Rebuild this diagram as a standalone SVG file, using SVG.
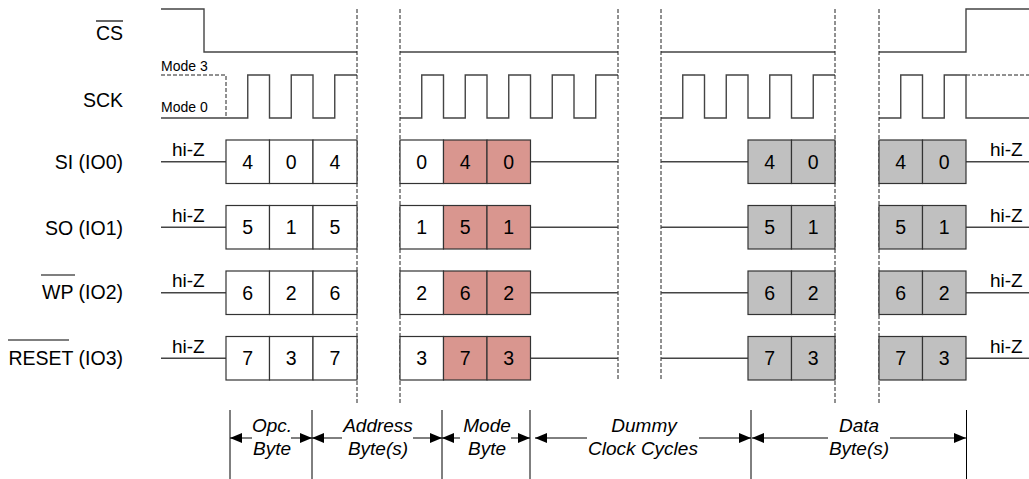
<svg xmlns="http://www.w3.org/2000/svg" width="1029" height="479" viewBox="0 0 1029 479">
<defs>
<style>
text{font-family:"Liberation Sans",Arial,sans-serif;fill:#000}
.lbl{font-size:19.5px;text-anchor:end}
.small{font-size:14px}
.hz{font-size:19px}
.dig{font-size:19.5px;text-anchor:middle}
.it{font-size:19px;font-style:italic;text-anchor:middle}
.wave{fill:none;stroke:#444;stroke-width:1.4}
.dash{fill:none;stroke:#222;stroke-width:1;stroke-dasharray:4,2}
.ovl{stroke:#000;stroke-width:1.2}
.cell{stroke:#333;stroke-width:1.2}
.w{fill:#fff}
.r{fill:#D9968F}
.g{fill:#C0C0C0}
.dim{stroke:#000;stroke-width:1;fill:none}
</style>
<marker id="ah" viewBox="0 0 12 10" refX="12" refY="5" markerWidth="12" markerHeight="10" markerUnits="userSpaceOnUse" orient="auto-start-reverse">
<path d="M0,0 L12,5 L0,10 Z" fill="#000"/>
</marker>
</defs>
<rect width="1029" height="479" fill="#fff"/>

<g id="labels">
<text class="lbl" x="123" y="40">CS</text>
<line class="ovl" x1="96" y1="21" x2="123" y2="21"/>
<text class="lbl" x="123" y="107">SCK</text>
<text class="lbl" x="123" y="169">SI (IO0)</text>
<text class="lbl" x="123" y="235">SO (IO1)</text>
<text class="lbl" x="123" y="299">WP (IO2)</text>
<line class="ovl" x1="41" y1="275" x2="75" y2="275"/>
<text class="lbl" x="123" y="365">RESET (IO3)</text>
<line class="ovl" x1="8" y1="340" x2="69" y2="340"/>
<text class="small" x="161" y="71">Mode 3</text>
<text class="small" x="161" y="112">Mode 0</text>
</g>

<g id="cs">
<path class="wave" d="M161,9 H204 V52 H357 M400,52 H618 M661,52 H835 M879,52 H966 V9 H1029"/>
</g>

<g id="sck">
<path class="dash" d="M161,75 H226 V118 M966,75 H1029"/>
<path class="wave" d="M161,118 H247.75 V75 H269.5 V118 H291.25 V75 H313 V118 H334.75 V75 H357"/>
<path class="wave" d="M400,118 H421.75 V75 H443.5 V118 H465.25 V75 H487 V118 H508.75 V75 H530.5 V118 H552.25 V75 H574 V118 H595.75 V75 H618"/>
<path class="wave" d="M661,118 H682.75 V75 H704.5 V118 H726.25 V75 H748 V118 H769.75 V75 H791.5 V118 H813.25 V75 H835"/>
<path class="wave" d="M879,118 H900.75 V75 H922.5 V118 H944.25 V75 H966 V118 H1029"/>
</g>

<g id="cuts">
<path class="dash" d="M357,9 V403 M400,9 V403 M835,9 V403 M879,9 V403 M618,9 V380 M661,9 V380"/>
</g>

<g id="row-io0">
<path class="wave" d="M161,161.75 H226 M530.5,161.75 H618 M661,161.75 H748 M966,161.75 H1029"/>
<text class="hz" x="172" y="156">hi-Z</text>
<text class="hz" x="990" y="156">hi-Z</text>
<rect class="cell w" x="226" y="140" width="43.5" height="43.5"/>
<rect class="cell w" x="269.5" y="140" width="43.5" height="43.5"/>
<rect class="cell w" x="313" y="140" width="44" height="43.5"/>
<rect class="cell w" x="400" y="140" width="43.5" height="43.5"/>
<rect class="cell r" x="443.5" y="140" width="43.5" height="43.5"/>
<rect class="cell r" x="487" y="140" width="43.5" height="43.5"/>
<rect class="cell g" x="748" y="140" width="43.5" height="43.5"/>
<rect class="cell g" x="791.5" y="140" width="43.5" height="43.5"/>
<rect class="cell g" x="879" y="140" width="43.5" height="43.5"/>
<rect class="cell g" x="922.5" y="140" width="43.5" height="43.5"/>
<text class="dig" x="247.75" y="168.5">4</text>
<text class="dig" x="291.25" y="168.5">0</text>
<text class="dig" x="335" y="168.5">4</text>
<text class="dig" x="421.75" y="168.5">0</text>
<text class="dig" x="465.25" y="168.5">4</text>
<text class="dig" x="508.75" y="168.5">0</text>
<text class="dig" x="769.75" y="168.5">4</text>
<text class="dig" x="813.25" y="168.5">0</text>
<text class="dig" x="900.75" y="168.5">4</text>
<text class="dig" x="944.25" y="168.5">0</text>
</g>

<g id="row-io1" transform="translate(0,65.5)">
<path class="wave" d="M161,161.75 H226 M530.5,161.75 H618 M661,161.75 H748 M966,161.75 H1029"/>
<text class="hz" x="172" y="156">hi-Z</text>
<text class="hz" x="990" y="156">hi-Z</text>
<rect class="cell w" x="226" y="140" width="43.5" height="43.5"/>
<rect class="cell w" x="269.5" y="140" width="43.5" height="43.5"/>
<rect class="cell w" x="313" y="140" width="44" height="43.5"/>
<rect class="cell w" x="400" y="140" width="43.5" height="43.5"/>
<rect class="cell r" x="443.5" y="140" width="43.5" height="43.5"/>
<rect class="cell r" x="487" y="140" width="43.5" height="43.5"/>
<rect class="cell g" x="748" y="140" width="43.5" height="43.5"/>
<rect class="cell g" x="791.5" y="140" width="43.5" height="43.5"/>
<rect class="cell g" x="879" y="140" width="43.5" height="43.5"/>
<rect class="cell g" x="922.5" y="140" width="43.5" height="43.5"/>
<text class="dig" x="247.75" y="168.5">5</text>
<text class="dig" x="291.25" y="168.5">1</text>
<text class="dig" x="335" y="168.5">5</text>
<text class="dig" x="421.75" y="168.5">1</text>
<text class="dig" x="465.25" y="168.5">5</text>
<text class="dig" x="508.75" y="168.5">1</text>
<text class="dig" x="769.75" y="168.5">5</text>
<text class="dig" x="813.25" y="168.5">1</text>
<text class="dig" x="900.75" y="168.5">5</text>
<text class="dig" x="944.25" y="168.5">1</text>
</g>

<g id="row-io2" transform="translate(0,131)">
<path class="wave" d="M161,161.75 H226 M530.5,161.75 H618 M661,161.75 H748 M966,161.75 H1029"/>
<text class="hz" x="172" y="156">hi-Z</text>
<text class="hz" x="990" y="156">hi-Z</text>
<rect class="cell w" x="226" y="140" width="43.5" height="43.5"/>
<rect class="cell w" x="269.5" y="140" width="43.5" height="43.5"/>
<rect class="cell w" x="313" y="140" width="44" height="43.5"/>
<rect class="cell w" x="400" y="140" width="43.5" height="43.5"/>
<rect class="cell r" x="443.5" y="140" width="43.5" height="43.5"/>
<rect class="cell r" x="487" y="140" width="43.5" height="43.5"/>
<rect class="cell g" x="748" y="140" width="43.5" height="43.5"/>
<rect class="cell g" x="791.5" y="140" width="43.5" height="43.5"/>
<rect class="cell g" x="879" y="140" width="43.5" height="43.5"/>
<rect class="cell g" x="922.5" y="140" width="43.5" height="43.5"/>
<text class="dig" x="247.75" y="168.5">6</text>
<text class="dig" x="291.25" y="168.5">2</text>
<text class="dig" x="335" y="168.5">6</text>
<text class="dig" x="421.75" y="168.5">2</text>
<text class="dig" x="465.25" y="168.5">6</text>
<text class="dig" x="508.75" y="168.5">2</text>
<text class="dig" x="769.75" y="168.5">6</text>
<text class="dig" x="813.25" y="168.5">2</text>
<text class="dig" x="900.75" y="168.5">6</text>
<text class="dig" x="944.25" y="168.5">2</text>
</g>

<g id="row-io3" transform="translate(0,196.5)">
<path class="wave" d="M161,161.75 H226 M530.5,161.75 H618 M661,161.75 H748 M966,161.75 H1029"/>
<text class="hz" x="172" y="156">hi-Z</text>
<text class="hz" x="990" y="156">hi-Z</text>
<rect class="cell w" x="226" y="140" width="43.5" height="43.5"/>
<rect class="cell w" x="269.5" y="140" width="43.5" height="43.5"/>
<rect class="cell w" x="313" y="140" width="44" height="43.5"/>
<rect class="cell w" x="400" y="140" width="43.5" height="43.5"/>
<rect class="cell r" x="443.5" y="140" width="43.5" height="43.5"/>
<rect class="cell r" x="487" y="140" width="43.5" height="43.5"/>
<rect class="cell g" x="748" y="140" width="43.5" height="43.5"/>
<rect class="cell g" x="791.5" y="140" width="43.5" height="43.5"/>
<rect class="cell g" x="879" y="140" width="43.5" height="43.5"/>
<rect class="cell g" x="922.5" y="140" width="43.5" height="43.5"/>
<text class="dig" x="247.75" y="168.5">7</text>
<text class="dig" x="291.25" y="168.5">3</text>
<text class="dig" x="335" y="168.5">7</text>
<text class="dig" x="421.75" y="168.5">3</text>
<text class="dig" x="465.25" y="168.5">7</text>
<text class="dig" x="508.75" y="168.5">3</text>
<text class="dig" x="769.75" y="168.5">7</text>
<text class="dig" x="813.25" y="168.5">3</text>
<text class="dig" x="900.75" y="168.5">7</text>
<text class="dig" x="944.25" y="168.5">3</text>
</g>

<g id="dimensions">
<path class="dim" d="M230,410 V479 M312,410 V479 M442,410 V479 M530,410 V479 M751,410 V479 M966.5,410 V479"/>
<line class="dim" x1="252" y1="438" x2="230" y2="438" marker-end="url(#ah)"/>
<line class="dim" x1="291" y1="438" x2="312" y2="438" marker-end="url(#ah)"/>
<line class="dim" x1="342" y1="438" x2="312" y2="438" marker-end="url(#ah)"/>
<line class="dim" x1="413" y1="438" x2="442" y2="438" marker-end="url(#ah)"/>
<line class="dim" x1="460" y1="438" x2="442" y2="438" marker-end="url(#ah)"/>
<line class="dim" x1="511" y1="438" x2="530" y2="438" marker-end="url(#ah)"/>
<line class="dim" x1="587" y1="438" x2="535" y2="438" marker-end="url(#ah)"/>
<line class="dim" x1="699" y1="438" x2="751" y2="438" marker-end="url(#ah)"/>
<line class="dim" x1="828" y1="438" x2="752" y2="438" marker-end="url(#ah)"/>
<line class="dim" x1="890" y1="438" x2="966" y2="438" marker-end="url(#ah)"/>
<text class="it" x="272" y="432">Opc.</text>
<text class="it" x="272" y="455">Byte</text>
<text class="it" x="378" y="432">Address</text>
<text class="it" x="378" y="455">Byte(s)</text>
<text class="it" x="487" y="432">Mode</text>
<text class="it" x="487" y="455">Byte</text>
<text class="it" x="644" y="432">Dummy</text>
<text class="it" x="643" y="455">Clock Cycles</text>
<text class="it" x="859" y="432">Data</text>
<text class="it" x="859" y="455">Byte(s)</text>
</g>
</svg>
